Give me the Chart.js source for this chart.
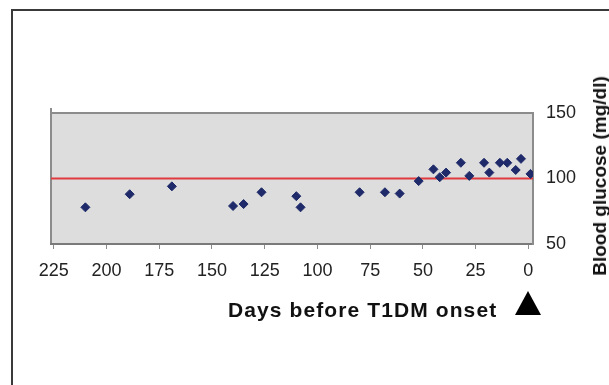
<!DOCTYPE html>
<html>
<head>
<meta charset="utf-8">
<script src="https://cdn.jsdelivr.net/npm/chart.js@4"></script>
<style>
body{margin:0;background:#fff;}
#wrap{position:relative;width:609px;height:385px;overflow:hidden;font-family:"Liberation Sans",Arial,sans-serif;}
#frame{position:absolute;left:11px;top:9px;width:700px;height:500px;border-top:2px solid #3a3a3a;border-left:2px solid #3a3a3a;}
#xtitle{position:absolute;left:228px;top:298px;font-weight:bold;font-size:21px;letter-spacing:1.1px;color:#111;white-space:nowrap;}
#ytitle{position:absolute;left:600px;top:176px;transform:translate(-50%,-50%) rotate(-90deg);font-weight:bold;font-size:19px;color:#111;white-space:nowrap;}
#arrow{position:absolute;left:515px;top:291px;width:0;height:0;border-left:13px solid transparent;border-right:13px solid transparent;border-bottom:24px solid #000;}
#chart{position:absolute;left:0;top:0;width:609px;height:385px;}
</style>
</head>
<body>
<div id="wrap">
<div id="frame"></div>
<div id="chart"><canvas id="glucoseChart"></canvas></div>
<div id="xtitle">Days before T1DM onset</div>
<div id="ytitle">Blood glucose (mg/dl)</div>
<div id="arrow"></div>
</div>
<script>
// days before onset and blood glucose readings
const days = [210, 189, 169, 140, 135, 126.5, 110, 108, 80, 68, 61, 52, 45, 42, 39, 32, 28, 21, 18.5, 13.5, 10, 6, 3.5, -1];
const glucose = [78, 88, 94, 79, 80.5, 89.5, 86.5, 78, 89.5, 89.5, 88.5, 98, 107, 101, 104.5, 112, 102, 112, 104.5, 112, 112, 106.5, 115, 103.5];
const refLevel = 100;
const xTicks = [225, 200, 175, 150, 125, 100, 75, 50, 25, 0];
const yTicks = [50, 100, 150];
const xMin = -2.2, xMax = 226.3;

const points = days.map((d, i) => ({x: d, y: glucose[i]}));

const plotBg = {
  id: 'plotBg',
  beforeDraw(chart){
    const a = chart.chartArea, c = chart.ctx;
    c.save();
    c.fillStyle = '#dcdddc';
    c.fillRect(a.left, a.top, a.right - a.left, a.bottom - a.top);
    c.strokeStyle = '#8c8c8c';
    c.lineWidth = 2;
    c.beginPath();
    c.moveTo(a.left, a.top - 5);
    c.lineTo(a.left, a.bottom);
    c.moveTo(a.left, a.top);
    c.lineTo(a.right, a.top);
    c.lineTo(a.right, a.bottom);
    c.stroke();
    c.restore();
  }
};

new Chart(document.getElementById('glucoseChart'), {
  type: 'scatter',
  data: {
    datasets: [{
      data: points,
      pointStyle: 'rectRot',
      pointRadius: 4.5,
      backgroundColor: '#1f2a6a',
      borderColor: '#1f2a6a',
      borderWidth: 1
    }, {
      type: 'line',
      data: [{x: xMax, y: refLevel}, {x: xMin, y: refLevel}],
      borderColor: '#e03a3e',
      borderWidth: 2,
      pointRadius: 0
    }]
  },
  options: {
    responsive: true,
    maintainAspectRatio: false,
    animation: false,
    layout: {padding: {top: 113, left: 51, right: 0, bottom: 0}},
    plugins: {legend: {display: false}, tooltip: {enabled: false}},
    scales: {
      x: {
        type: 'linear',
        reverse: true,
        min: xMin,
        max: xMax,
        afterBuildTicks: s => { s.ticks = xTicks.map(v => ({value: v})); },
        afterFit: s => { s.height = 141; },
        grid: {drawOnChartArea: false, drawTicks: true, tickLength: 5, tickColor: '#8c8c8c'},
        border: {color: '#7a7a7a', width: 2},
        ticks: {padding: 11, color: '#222', font: {family: '"Liberation Sans", Arial', size: 18}, maxRotation: 0, autoSkip: false}
      },
      y: {
        position: 'right',
        min: 50,
        max: 150,
        afterBuildTicks: s => { s.ticks = yTicks.map(v => ({value: v})); },
        afterFit: s => { s.width = 76; },
        grid: {drawOnChartArea: false, drawTicks: false},
        border: {color: '#8c8c8c', width: 2},
        ticks: {padding: 13, color: '#222', font: {family: '"Liberation Sans", Arial', size: 18}}
      }
    }
  },
  plugins: [plotBg]
});
</script>
</body>
</html>
